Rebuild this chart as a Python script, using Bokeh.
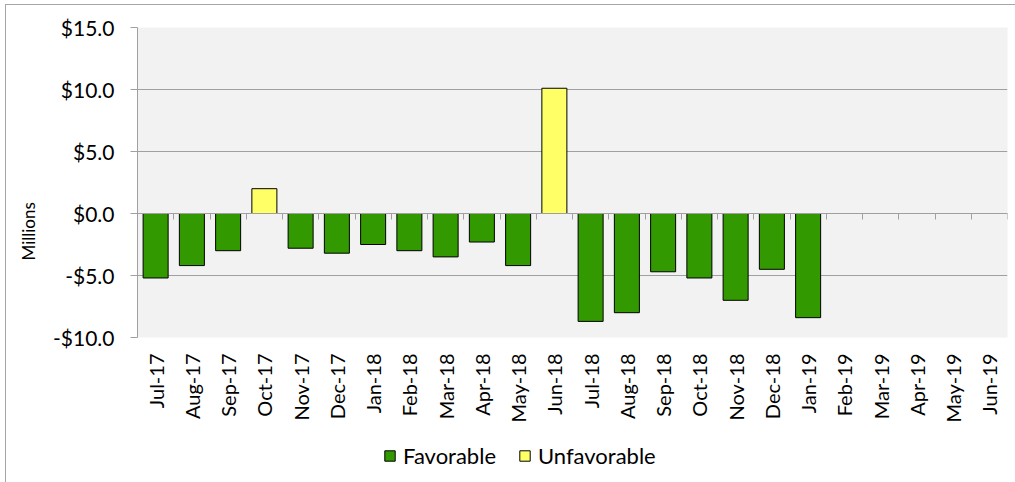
from math import pi

from bokeh.embed import file_html
from bokeh.layouts import column
from bokeh.models import (ColumnDataSource, CustomJSTickFormatter, FixedTicker,
                          Legend, LegendItem, LinearAxis, Range1d, Title)
from bokeh.plotting import figure
from bokeh.resources import INLINE

# Monthly budget variance, in millions of dollars (None = not yet reported)
months = ["Jul-17", "Aug-17", "Sep-17", "Oct-17", "Nov-17", "Dec-17",
          "Jan-18", "Feb-18", "Mar-18", "Apr-18", "May-18", "Jun-18",
          "Jul-18", "Aug-18", "Sep-18", "Oct-18", "Nov-18", "Dec-18",
          "Jan-19", "Feb-19", "Mar-19", "Apr-19", "May-19", "Jun-19"]
variance = [-5.2, -4.2, -3.0, 2.0, -2.8, -3.2,
            -2.5, -3.0, -3.5, -2.3, -4.2, 10.1,
            -8.7, -8.0, -4.7, -5.2, -7.0, -4.5,
            -8.4, None, None, None, None, None]
y_ticks = [-10, -5, 0, 5, 10, 15]
series_names = ["Favorable", "Unfavorable"]

FONT = "Lato"
GREEN = "#339900"
YELLOW = "#FFFF66"
GRID = "#A0A0A0"
PLOT_BG = "#F2F2F2"
BAR_STYLES = [dict(fill_color=GREEN, line_color="black", line_width=1),
              dict(fill_color=YELLOW, line_color="black", line_width=1)]

# Split the months into favorable (under budget) and unfavorable bars
fav = dict(x=[], top=[])
unfav = dict(x=[], top=[])
for i, v in enumerate(variance):
    if v is None:
        continue
    target = fav if v < 0 else unfav
    target["x"].append(i + 0.5)
    target["top"].append(v)
sources = [ColumnDataSource(fav), ColumnDataSource(unfav)]

x_range = Range1d(0, len(months))

p = figure(width=1009, height=430,
           x_range=x_range, y_range=Range1d(min(y_ticks), max(y_ticks)),
           output_backend="svg", toolbar_location=None, title=None,
           min_border_left=131, min_border_right=8,
           min_border_top=22, min_border_bottom=98,
           background_fill_color=PLOT_BG, border_fill_color="white",
           outline_line_color=None)

for src, style in zip(sources, BAR_STYLES):
    p.vbar(x="x", top="top", bottom=0, width=0.69, source=src, **style)

# Category labels along the bottom of the plot area
xa = p.xaxis[0]
xa.ticker = FixedTicker(ticks=[i + 0.5 for i in range(len(months))])
xa.formatter = CustomJSTickFormatter(args=dict(months=months),
                                     code="return months[Math.floor(tick)];")
xa.major_label_orientation = pi / 2
xa.major_label_text_font = FONT
xa.major_label_text_font_size = "20px"
xa.major_label_text_color = "black"
xa.major_label_standoff = 10
xa.axis_line_color = None
xa.major_tick_line_color = None
xa.minor_tick_line_color = None

# Horizontal axis line crossing at zero, ticks between categories
zero_axis = LinearAxis(fixed_location=0,
                       ticker=FixedTicker(ticks=list(range(len(months) + 1))),
                       formatter=CustomJSTickFormatter(code="return '';"),
                       major_tick_out=6, major_tick_in=0,
                       axis_line_color=GRID, major_tick_line_color=GRID,
                       minor_tick_line_color=None)
p.add_layout(zero_axis, "below")

ya = p.yaxis[0]
ya.ticker = FixedTicker(ticks=y_ticks)
ya.formatter = CustomJSTickFormatter(
    code="return (tick < 0 ? '-' : '') + '$' + Math.abs(tick).toFixed(1);")
ya.major_label_text_font = FONT
ya.major_label_text_font_size = "21px"
ya.major_label_text_color = "black"
ya.major_label_standoff = 16
ya.major_tick_out = 7
ya.major_tick_in = 0
ya.axis_line_color = GRID
ya.major_tick_line_color = GRID
ya.minor_tick_line_color = None

# Units caption beside the value axis, a little below its middle
p.add_layout(Title(text="Millions", align="left", offset=77,
                   vertical_align="middle", standoff=21,
                   text_font=FONT, text_font_size="17px",
                   text_font_style="normal", text_color="black"), "left")

p.xgrid.visible = False
p.ygrid.ticker = FixedTicker(ticks=y_ticks)
p.ygrid.grid_line_color = GRID

# Legend strip under the chart; its bars sit outside its visible range
lg = figure(width=1009, height=47, x_range=x_range, y_range=Range1d(100, 101),
            output_backend="svg", toolbar_location=None, title=None,
            min_border=0, x_axis_location=None, y_axis_location=None,
            outline_line_color=None, background_fill_color="white",
            border_fill_color="white")
lg.grid.visible = False
swatches = [lg.vbar(x="x", top="top", bottom=0, width=0.69, source=src, **style)
            for src, style in zip(sources, BAR_STYLES)]
legend = Legend(items=[LegendItem(label=name, renderers=[r])
                       for name, r in zip(series_names, swatches)],
                orientation="horizontal", location=(246, 13),
                glyph_width=13, glyph_height=13, label_standoff=7, spacing=22,
                padding=0, margin=0, border_line_color=None,
                background_fill_alpha=0,
                label_text_font=FONT, label_text_font_size="22px",
                label_text_color="black")
lg.add_layout(legend)

layout = column(p, lg, spacing=0)
layout.margin = (4, 0, 0, 5)
layout.styles = {"border-left": "1px solid #A6A6A6", "border-top": "1px solid #A6A6A6"}

open("out.html", "w").write(file_html(layout, INLINE))
